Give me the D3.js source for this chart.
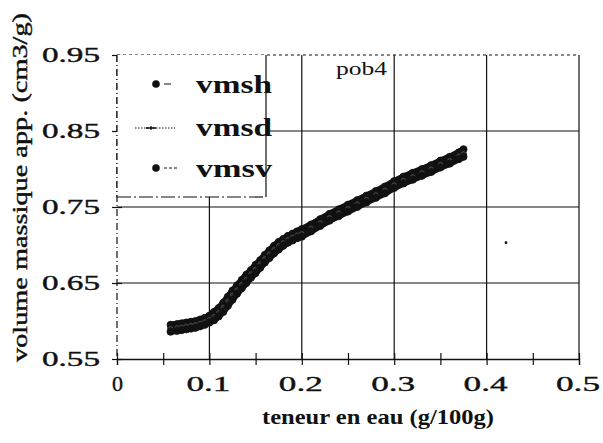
<!DOCTYPE html>
<html>
<head>
<meta charset="utf-8">
<script src="https://cdn.jsdelivr.net/npm/d3@7"></script>
<style>
  html, body { margin: 0; padding: 0; background: #fff; }
  svg { display: block; }
</style>
</head>
<body>
<svg id="chart" width="603" height="443"></svg>
<script>
// Teneur en eau (g/100g), commune aux trois séries
const teneur = [0.058,0.065,0.07,0.075,0.08,0.085,0.09,0.095,0.10,0.105,0.11,0.115,0.12,0.125,0.13,0.135,0.14,0.145,0.15,0.155,0.16,0.165,0.17,0.175,0.18,0.185,0.19,0.195,0.20,0.21,0.22,0.23,0.24,0.25,0.26,0.27,0.28,0.29,0.30,0.31,0.32,0.33,0.34,0.35,0.36,0.37,0.375];
// Volumes massiques apparents (cm3/g)
const vmsh = [0.595,0.596,0.597,0.598,0.599,0.600,0.602,0.604,0.607,0.612,0.617,0.624,0.632,0.640,0.647,0.654,0.661,0.667,0.674,0.680,0.687,0.693,0.699,0.704,0.708,0.712,0.715,0.718,0.721,0.727,0.734,0.741,0.747,0.753,0.759,0.765,0.771,0.777,0.784,0.790,0.795,0.800,0.805,0.811,0.816,0.822,0.826];
const vmsd = [0.590,0.591,0.592,0.593,0.594,0.595,0.597,0.599,0.602,0.606,0.611,0.618,0.626,0.634,0.641,0.648,0.655,0.662,0.668,0.675,0.682,0.688,0.694,0.699,0.703,0.707,0.710,0.713,0.715,0.722,0.729,0.736,0.742,0.748,0.754,0.760,0.766,0.772,0.779,0.785,0.790,0.795,0.800,0.806,0.811,0.817,0.820];
const vmsv = [0.586,0.587,0.588,0.589,0.590,0.591,0.593,0.595,0.598,0.601,0.606,0.612,0.620,0.628,0.636,0.643,0.650,0.657,0.663,0.670,0.677,0.683,0.689,0.694,0.699,0.703,0.706,0.709,0.711,0.718,0.725,0.732,0.738,0.744,0.750,0.756,0.762,0.768,0.775,0.781,0.786,0.791,0.796,0.802,0.807,0.813,0.816];
// Point isolé
const pointIsole = [{x: 0.421, y: 0.703}];

const seriesNames = ["vmsh", "vmsd", "vmsv"];
const xTicks = [0, 0.1, 0.2, 0.3, 0.4, 0.5];
const xTickLabels = ["0", "0.1", "0.2", "0.3", "0.4", "0.5"];
const yTicks = [0.55, 0.65, 0.75, 0.85, 0.95];
const yTickLabels = ["0.55", "0.65", "0.75", "0.85", "0.95"];
const xTitle = "teneur en eau (g/100g)";
const yTitle = "volume massique app. (cm3/g)";
const sampleLabel = "pob4";

const serif = "'Times New Roman', 'Liberation Serif', Times, serif";
const svg = d3.select("#chart").attr("font-family", serif);
const x = d3.scaleLinear().domain([0, 0.5]).range([117, 579]);
const y = d3.scaleLinear().domain([0.55, 0.95]).range([359, 55]);
const ink = "#111";

// Quadrillage
const grid = svg.append("g").attr("stroke", ink).attr("stroke-width", 1.2);
[0.1, 0.2, 0.3, 0.4].forEach(v => grid.append("line")
  .attr("x1", x(v)).attr("x2", x(v)).attr("y1", y(0.95)).attr("y2", y(0.55)));
[0.65, 0.75, 0.85].forEach(v => grid.append("line")
  .attr("x1", x(0)).attr("x2", x(0.5)).attr("y1", y(v)).attr("y2", y(v)));
// cadre : haut pointillé, droite plein, gauche tireté
grid.append("line").attr("x1", x(0)).attr("x2", x(0.5)).attr("y1", y(0.95)).attr("y2", y(0.95))
  .attr("stroke-dasharray", "3,3");
grid.append("line").attr("x1", x(0.5)).attr("x2", x(0.5)).attr("y1", y(0.95)).attr("y2", y(0.55));
grid.append("line").attr("x1", x(0)).attr("x2", x(0)).attr("y1", y(0.95)).attr("y2", y(0.55))
  .attr("stroke-dasharray", "7,3,1,3");

// Axe des abscisses avec graduations croisées
const xAxis = d3.axisBottom(x).tickValues(d3.range(0, 0.501, 0.05)).tickSize(6).tickFormat("");
const gx = svg.append("g").attr("transform", `translate(0,${y(0.55)})`).call(xAxis);
gx.select(".domain").attr("stroke", ink).attr("stroke-width", 1.3);
gx.selectAll(".tick line").attr("stroke", ink).attr("stroke-width", 1.2).attr("y1", -6);

// Axe des ordonnées
const yAxis = d3.axisLeft(y).tickValues(yTicks).tickSize(5).tickFormat("");
const gy = svg.append("g").attr("transform", `translate(${x(0)},0)`).call(yAxis);
gy.select(".domain").remove();
gy.selectAll(".tick line").attr("stroke", ink).attr("stroke-width", 1.2).attr("x2", 5).attr("x1", -5);

// Étiquettes des graduations
svg.append("g").selectAll("text").data(xTicks).join("text")
  .attr("x", (d, i) => i === 0 ? x(d) - 5 : x(d) - 23)
  .attr("y", 391)
  .attr("font-size", 22)
  .attr("fill", ink).attr("stroke", ink).attr("stroke-width", 0.4)
  .attr("textLength", (d, i) => i === 0 ? 11 : 44)
  .attr("lengthAdjust", "spacingAndGlyphs")
  .text((d, i) => xTickLabels[i]);

svg.append("g").selectAll("text").data(yTicks).join("text")
  .attr("x", 42)
  .attr("y", d => y(d) + 7)
  .attr("font-size", 21)
  .attr("fill", ink).attr("stroke", ink).attr("stroke-width", 0.4)
  .attr("textLength", 58)
  .attr("lengthAdjust", "spacingAndGlyphs")
  .text((d, i) => yTickLabels[i]);

// Titres des axes
svg.append("text")
  .attr("x", 262).attr("y", 424)
  .attr("font-size", 20).attr("font-weight", "bold").attr("fill", ink)
  .attr("textLength", 232).attr("lengthAdjust", "spacingAndGlyphs")
  .text(xTitle);

svg.append("text")
  .attr("transform", "translate(27,362) rotate(-90)")
  .attr("font-size", 20).attr("fill", ink)
  .attr("stroke", ink).attr("stroke-width", 0.4)
  .attr("textLength", 349).attr("lengthAdjust", "spacingAndGlyphs")
  .text(yTitle);

svg.append("text")
  .attr("x", 336).attr("y", 75)
  .attr("font-size", 19).attr("fill", ink)
  .attr("textLength", 51).attr("lengthAdjust", "spacingAndGlyphs")
  .text(sampleLabel);

// Courbes : trois séries superposées formant une bande
const plot = svg.append("g");
const seriesData = [vmsh, vmsd, vmsv].map(vals => teneur.map((t, i) => ({x: t, y: vals[i]})));
const line = d3.line().x(d => x(d.x)).y(d => y(d.y)).curve(d3.curveLinear);
seriesData.forEach((data, k) => {
  plot.append("path").datum(data)
    .attr("d", line)
    .attr("fill", "none")
    .attr("stroke", ink)
    .attr("stroke-width", 6.5)
    .attr("stroke-linecap", "round");
});
seriesData.forEach((data, k) => {
  plot.append("g").selectAll("circle").data(data).join("circle")
    .attr("cx", d => x(d.x)).attr("cy", d => y(d.y))
    .attr("r", k === 1 ? 2.2 : 3.6)
    .attr("fill", k === 1 ? "#2a2a2a" : ink)
    .attr("stroke", k === 1 ? "#555" : ink).attr("stroke-width", 0.7);
});
plot.selectAll(".isole").data(pointIsole).join("circle")
  .attr("class", "isole")
  .attr("cx", d => x(d.x)).attr("cy", d => y(d.y)).attr("r", 1.4).attr("fill", ink);

// Légende
const legend = svg.append("g");
legend.append("rect")
  .attr("x", x(0)).attr("y", y(0.95))
  .attr("width", 266 - x(0)).attr("height", 197 - y(0.95))
  .attr("fill", "#fff").attr("stroke", "none");
legend.append("line").attr("x1", 266).attr("x2", 266).attr("y1", y(0.95)).attr("y2", 197)
  .attr("stroke", ink).attr("stroke-width", 1.2);
legend.append("line").attr("x1", x(0)).attr("x2", 266).attr("y1", 197).attr("y2", 197)
  .attr("stroke", ink).attr("stroke-width", 1.2).attr("stroke-dasharray", "14,3,2,3");
legend.append("line").attr("x1", x(0)).attr("x2", x(0)).attr("y1", y(0.95)).attr("y2", 197)
  .attr("stroke", ink).attr("stroke-width", 1.2).attr("stroke-dasharray", "7,3,1,3");

const legendRows = [84, 128, 168];
const textBase = [93, 136, 177];
seriesNames.forEach((name, k) => {
  const cy = legendRows[k];
  if (k === 1) {
    legend.append("line").attr("x1", 135).attr("x2", 175).attr("y1", cy).attr("y2", cy)
      .attr("stroke", ink).attr("stroke-width", 1).attr("stroke-dasharray", "1.5,1.5");
    legend.append("line").attr("x1", 146).attr("x2", 156).attr("y1", cy).attr("y2", cy)
      .attr("stroke", ink).attr("stroke-width", 1.6);
    legend.append("line").attr("x1", 151).attr("x2", 151).attr("y1", cy - 2).attr("y2", cy + 2)
      .attr("stroke", ink).attr("stroke-width", 1.2);
  } else {
    legend.append("circle").attr("cx", 156).attr("cy", cy).attr("r", 3.8).attr("fill", ink);
    legend.append("line").attr("x1", 164).attr("x2", k === 0 ? 171 : 177).attr("y1", cy).attr("y2", cy)
      .attr("stroke", ink).attr("stroke-width", 1).attr("stroke-dasharray", k === 0 ? "7,0" : "3,2");
  }
  legend.append("text")
    .attr("x", 196).attr("y", textBase[k])
    .attr("font-size", 25).attr("font-weight", "bold").attr("fill", ink)
    .attr("textLength", 76).attr("lengthAdjust", "spacingAndGlyphs")
    .text(name);
});
</script>
</body>
</html>
